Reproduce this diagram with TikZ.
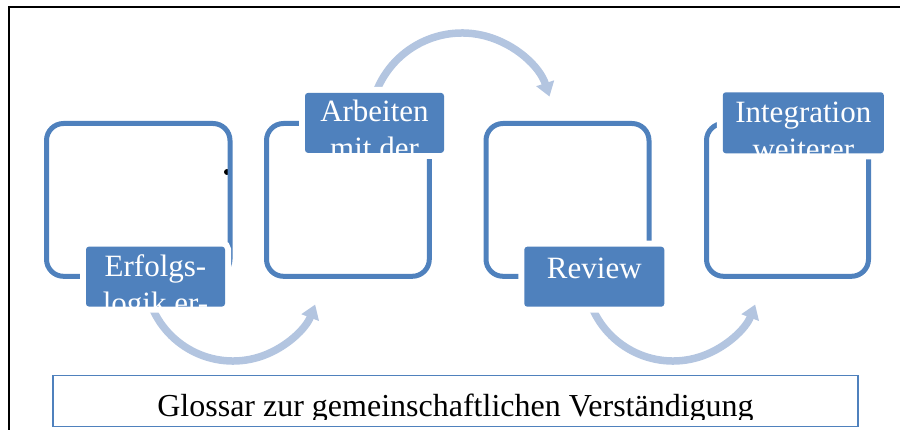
\documentclass[tikz,border=0pt]{standalone}
\usepackage{fontspec}
\setmainfont{Liberation Serif}
\usetikzlibrary{arrows.meta,calc}
\definecolor{accent}{HTML}{4F81BD}
\definecolor{flow}{HTML}{B3C5E0}
\begin{document}
\begin{tikzpicture}[x=1pt,y=-1pt,
  stepframe/.style={draw=accent, line width=5pt, rounded corners=17pt, inner sep=0pt},
  labelbox/.style={fill=accent, rounded corners=3pt, inner sep=0pt,
    preaction={draw=white, line width=12pt}},
  flowarrow/.style={draw=flow, line width=7.5pt, -{Triangle[width=18pt,length=14pt]}},
  labeltext/.style={text=white, font=\fontsize{31}{34}\selectfont, inner sep=0pt, anchor=base},
  glossbox/.style={draw=accent, line width=1.5pt, inner sep=0pt},
  glosstext/.style={text=black, font=\fontsize{32}{35}\selectfont, inner sep=0pt, anchor=base},
]
\useasboundingbox (0,0) rectangle (900,430);

% outer frame (partly cut)
\coordinate (fbl) at (9,431);
\coordinate (ftl) at (9,7);
\coordinate (ftr) at (901,7);
\draw[black, line width=2.2pt] (fbl) -- (ftl) -- (ftr);

% curved flow arrows
\coordinate (c1) at (233,273);
\coordinate (c2) at (462,125);
\coordinate (c3) at (673,273);
\draw[flowarrow] ($(c1)+(200:88pt)$) arc[start angle=200, end angle=339, radius=88pt];
\draw[flowarrow] ($(c2)+(165:92pt)$) arc[start angle=165, end angle=18, radius=92pt];
\draw[flowarrow] ($(c3)+(200:88pt)$) arc[start angle=200, end angle=339, radius=88pt];

% stray dot
\fill[black] (227,172) circle (3pt);

% step frames
\node[stepframe, minimum width=183.5pt, minimum height=152.8pt] (b1) at (138.25,199.9) {};
\node[stepframe, minimum width=162.8pt, minimum height=152.8pt] (b2) at (347.9,199.9) {};
\node[stepframe, minimum width=163pt, minimum height=152.8pt] (b3) at (567.5,199.9) {};
\node[stepframe, minimum width=162pt, minimum height=152.8pt] (b4) at (787.5,199.9) {};

% labels
\node[labelbox, minimum width=139pt, minimum height=60pt] (l1) at (155.5,276.6) {};
\node[labelbox, minimum width=139pt, minimum height=60pt] (l2) at (374.5,122.9) {};
\node[labelbox, minimum width=140pt, minimum height=60pt] (l3) at (594.3,276.7) {};
\node[labelbox, minimum width=161pt, minimum height=61pt] (l4) at (803.3,122.8) {};

\begin{scope}
  \clip (l1.south west) rectangle (l1.north east);
  \node[labeltext] (t1a) at (155.5,277) {Erfolgs-};
  \node[labeltext] (t1b) at (155.5,314) {logik er-};
\end{scope}
\begin{scope}
  \clip (l2.south west) rectangle (l2.north east);
  \node[labeltext] (t2a) at (374.5,122) {Arbeiten};
  \node[labeltext] (t2b) at (374.5,159) {mit der};
\end{scope}
\node[labeltext] (t3) at (594.3,279) {Review};
\begin{scope}
  \clip (l4.south west) rectangle (l4.north east);
  \node[labeltext] (t4a) at (803.3,122.3) {Integration};
  \node[labeltext] (t4b) at (803.3,159.3) {weiterer};
\end{scope}

% glossary bar
\node[glossbox, minimum width=805pt, minimum height=51pt] (g) at (455.5,401) {};
\begin{scope}
  \clip (60,380) rectangle (850,419);
  \node[glosstext] (gt) at (455.5,416) {Glossar zur gemeinschaftlichen Verständigung};
\end{scope}
\end{tikzpicture}
\end{document}
